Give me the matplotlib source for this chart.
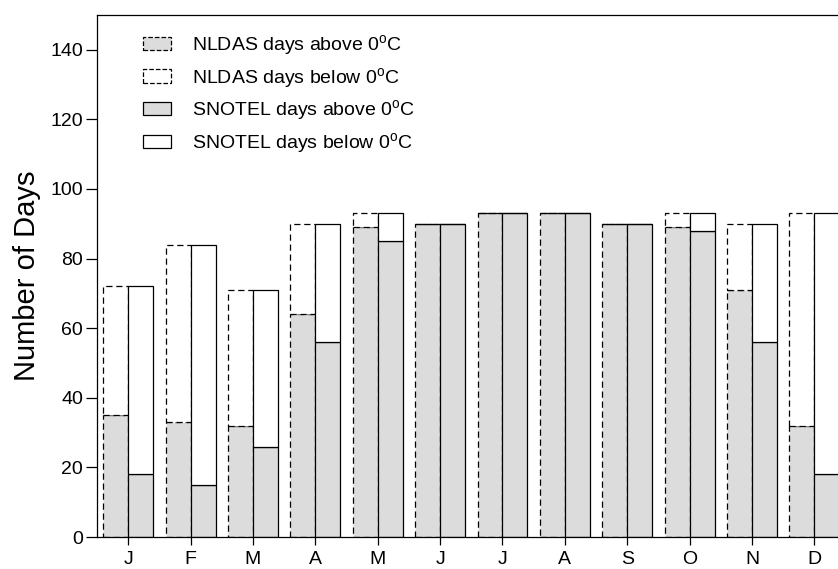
import numpy as np
import matplotlib.pyplot as plt
from matplotlib.patches import Patch

plt.rcParams['font.family'] = ['Liberation Sans', 'DejaVu Sans']
plt.rcParams['mathtext.fontset'] = 'custom'
plt.rcParams['mathtext.rm'] = 'Liberation Sans'
plt.rcParams['mathtext.it'] = 'Liberation Sans'

# ── Data: days per month (NLDAS vs SNOTEL) ───────────────────
months = ['J', 'F', 'M', 'A', 'M', 'J', 'J', 'A', 'S', 'O', 'N', 'D']
total_days    = [72, 84, 71, 90, 93, 90, 93, 93, 90, 93, 90, 93]
nldas_above   = [35, 33, 32, 64, 89, 90, 93, 93, 90, 89, 71, 32]
snotel_above  = [18, 15, 26, 56, 85, 90, 93, 93, 90, 88, 56, 18]

GRAY = '#dcdcdc'
DASH = (0, (5, 3))
x = np.arange(len(months))
w = 0.4

nldas_below  = np.array(total_days) - np.array(nldas_above)
snotel_below = np.array(total_days) - np.array(snotel_above)

fig = plt.figure(figsize=(8.38, 5.69), dpi=100)
ax = fig.add_axes([97 / 838, 1 - 537 / 569, (845.6 - 97) / 838, (537 - 15) / 569])

# NLDAS bars (dashed outline) on the left of each tick
ax.bar(x - w / 2, nldas_above, w, color=GRAY, edgecolor='black',
       linewidth=0.9, linestyle=DASH)
ax.bar(x - w / 2, nldas_below, w, bottom=nldas_above, color='white',
       edgecolor='black', linewidth=0.9, linestyle=DASH)

# SNOTEL bars (solid outline) on the right
ax.bar(x + w / 2, snotel_above, w, color=GRAY, edgecolor='black', linewidth=0.9)
ax.bar(x + w / 2, snotel_below, w, bottom=snotel_above, color='white',
       edgecolor='black', linewidth=0.9)

ax.set_xlim(-0.5, 11.5)
ax.set_ylim(0, 150)
ax.set_xticks(x)
ax.set_xticklabels(months)
ax.set_yticks(np.arange(0, 141, 20))
ax.tick_params(axis='both', direction='out', width=0.9, labelsize=14)
ax.tick_params(axis='x', length=6, pad=4)
ax.tick_params(axis='y', length=8, pad=2)
ax.set_ylabel('Number of Days', fontsize=21, labelpad=7)
for s in ax.spines.values():
    s.set_linewidth(0.9)

deg = r'0$^{\mathrm{o}}$C'
handles = [
    Patch(facecolor=GRAY, edgecolor='black', linestyle='--', linewidth=0.9),
    Patch(facecolor='white', edgecolor='black', linestyle='--', linewidth=0.9),
    Patch(facecolor=GRAY, edgecolor='black', linewidth=0.9),
    Patch(facecolor='white', edgecolor='black', linewidth=0.9),
]
labels = ['NLDAS days above ' + deg, 'NLDAS days below ' + deg,
          'SNOTEL days above ' + deg, 'SNOTEL days below ' + deg]
ax.legend(handles, labels, loc='upper left',
          bbox_to_anchor=(143 / 838, 1 - 33 / 569), bbox_transform=fig.transFigure,
          frameon=False, fontsize=14, borderpad=0, borderaxespad=0,
          handlelength=1.45, handleheight=0.67,
          handletextpad=1.08, labelspacing=0.45)

plt.savefig('out.png', dpi=100)
